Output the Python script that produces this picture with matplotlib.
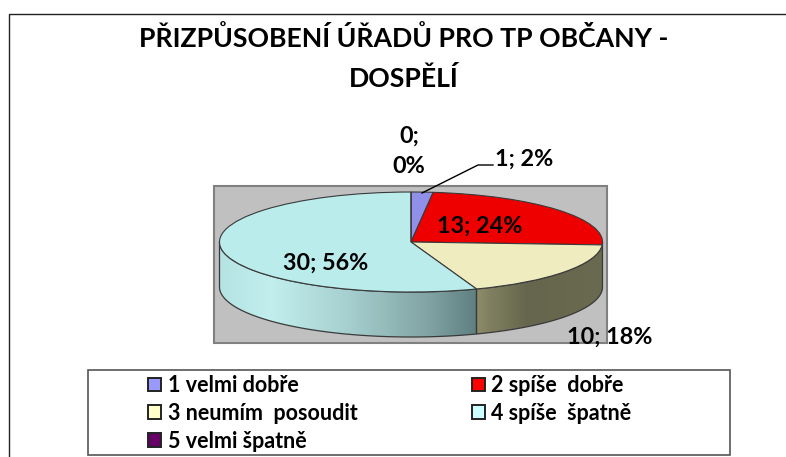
import numpy as np
import matplotlib
matplotlib.use("Agg")
import matplotlib.pyplot as plt
from matplotlib.patches import Rectangle, Polygon, Patch

plt.rcParams['font.family'] = ['Lato', 'Open Sans', 'DejaVu Sans']
plt.rcParams['font.weight'] = 'bold'

categories = ['1 velmi dobře', '2 spíše  dobře', '3 neumím  posoudit', '4 spíše  špatně', '5 velmi špatně']
values = [1, 13, 10, 30, 0]
labels = ['1; 2%', '13; 24%', '10; 18%', '30; 56%', '0;\n0%']
top_colors = ['#9090E8', '#EE0000', '#EFEDC0', '#BAECEC', '#660066']
legend_colors = ['#9999FF', '#FF0000', '#FFFFCC', '#CCFFFF', '#660066']
title = 'PŘIZPŮSOBENÍ ÚŘADŮ PRO TP OBČANY -\nDOSPĚLÍ'

W, H = 786, 457
fig = plt.figure(figsize=(W / 100, H / 100), dpi=100, facecolor='white')

px = fig.add_axes([0, 0, 1, 1], zorder=0)
px.set_xlim(0, W); px.set_ylim(H, 0); px.axis('off')

# outer frame
px.plot([786, 9, 9], [14, 14, 457], color='#222222', lw=1.0)
# plot area
px.add_patch(Rectangle((214, 186), 393, 157, fc='#C0C0C0', ec='#808080', lw=1.5))

# pie axes: unit radius pie, squashed by the data limits
CX, CY, RX, RY, DEPTH = 411, 242, 191.5, 50, 45
ax = fig.add_axes([0, 0, 1, 1], zorder=1)
ax.patch.set_alpha(0)
xlim = (-CX / RX, (W - CX) / RX)
ylim = ((CY - H) / RY, CY / RY)
d = DEPTH / RY

cum = np.cumsum(values) / np.sum(values) * 360.0  # clockwise from top


def side(a0, a1, stops, zo):
    """Side wall between clockwise angles a0..a1 (deg from top), gradient left to right."""
    t = np.radians(np.linspace(a0, a1, 200))
    x, y = np.sin(t), np.cos(t)
    poly = np.r_[np.c_[x, y], np.c_[x[::-1], y[::-1] - d]]
    pos, cols = zip(*stops)
    rgb = np.array([matplotlib.colors.to_rgb(c) for c in cols])
    f = np.linspace(0, 1, 256)
    img = np.stack([np.interp(f, pos, rgb[:, i]) for i in range(3)], axis=-1)[None, :, :]
    im = ax.imshow(img, extent=(x.min(), x.max(), -1 - d, 1), aspect='auto', zorder=zo,
                   interpolation='bilinear')
    pg = Polygon(poly, closed=True, transform=ax.transData, fc='none', ec='#3a3a3a', lw=0.9, zorder=zo + 1)
    ax.add_patch(pg)
    im.set_clip_path(pg)


side(cum[2], 270, [(0, '#B5E2E2'), (0.2, '#C2EEEE'), (0.5, '#A6CFCF'), (0.82, '#80A2A2'), (1, '#5F7F80')], 2)
side(90, cum[2], [(0, '#8D8D6B'), (0.12, '#7F7F60'), (0.4, '#66664E'), (1, '#6A6A50')], 2)

wedges, _ = ax.pie(values, startangle=90, counterclock=False, colors=top_colors,
                   wedgeprops=dict(edgecolor='#3a3a3a', linewidth=0.8, zorder=5))
ax.set_aspect('auto')
ax.set_xlim(*xlim); ax.set_ylim(*ylim)
ax.axis('off')

# overlay for text
top = fig.add_axes([0, 0, 1, 1], zorder=2)
top.patch.set_alpha(0)
top.set_xlim(0, W); top.set_ylim(H, 0); top.axis('off')

top.text(404, 58, title, ha='center', va='center', fontsize=19.2, fontweight='bold',
         linespacing=1.7, color='black')

lab = dict(fontsize=16.8, fontweight='bold', color='black', va='center')
top.text(495, 159, labels[0], ha='left', **lab)
top.text(480, 226, labels[1], ha='center', **lab)
top.text(610, 337, labels[2], ha='center', **lab)
top.text(326, 263, labels[3], ha='center', **lab)
top.text(409, 151, labels[4], ha='center', linespacing=1.55, **lab)
top.plot([422, 478, 493], [193, 165, 165], color='black', lw=1.0)

# legend box
top.add_patch(Rectangle((88, 370), 642, 85, fc='white', ec='#555555', lw=1.2))
order = [0, 2, 4, 1, 3]
handles = [Patch(fc=legend_colors[i], ec='#222222', lw=1.4, label=categories[i]) for i in order]
top.legend(handles=handles, ncol=2, loc='upper left', bbox_to_anchor=(148 / W, 1 - 375 / H),
           frameon=False, handlelength=0.6, handleheight=0.6, handletextpad=0.32,
           labelspacing=0.32, columnspacing=5.3, borderpad=0, borderaxespad=0,
           prop=dict(weight='bold', size=15.5))

fig.savefig('out.png', dpi=100)
